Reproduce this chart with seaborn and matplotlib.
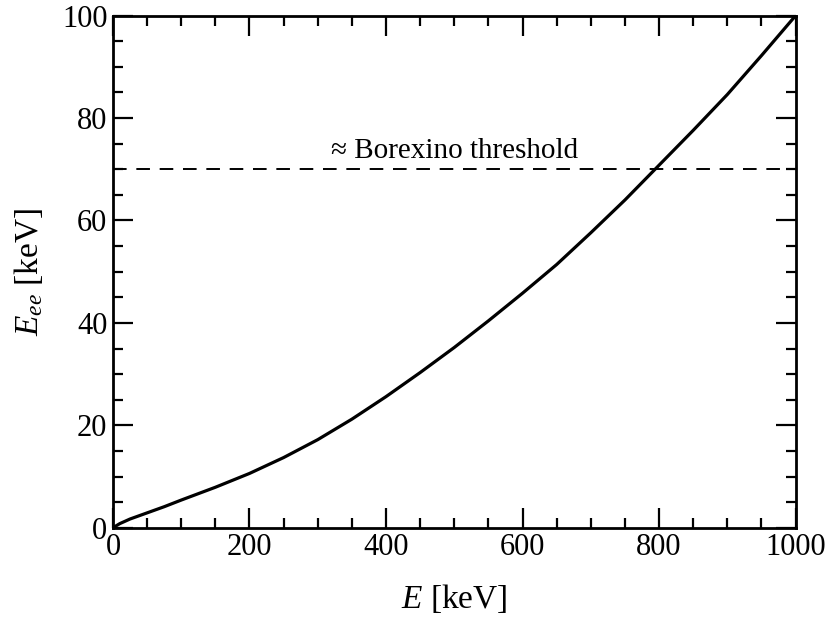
import matplotlib
matplotlib.use("Agg")
import matplotlib.pyplot as plt
import seaborn as sns
import pandas as pd
from matplotlib.ticker import MultipleLocator

# Data
E_keV = [0, 10, 25, 50, 75, 100, 150, 200, 250, 300, 350, 400, 450, 500,
         550, 600, 650, 700, 750, 800, 850, 900, 950, 1000]
Eee_keV = [0, 0.8, 1.7, 2.9, 4.1, 5.4, 7.9, 10.6, 13.7, 17.2, 21.2, 25.6,
           30.3, 35.2, 40.4, 45.8, 51.4, 57.6, 64.0, 70.8, 77.6, 84.6, 92.2, 100]
threshold = 70
threshold_label = "≈ Borexino threshold"

sns.set_theme(style="ticks")
plt.rcParams["font.family"] = ["Liberation Serif", "DejaVu Serif"]
plt.rcParams["mathtext.fontset"] = "custom"
plt.rcParams["mathtext.rm"] = "Liberation Serif"
plt.rcParams["mathtext.it"] = "Liberation Serif:italic"
for k in ["text.color", "axes.labelcolor", "xtick.color", "ytick.color",
          "xtick.labelcolor", "ytick.labelcolor"]:
    plt.rcParams[k] = "black"

fig = plt.figure(figsize=(8.27, 6.17), dpi=100)
ax = fig.add_axes([0.1366, 0.1447, 0.962 - 0.1366, 0.9746 - 0.1447])

df = pd.DataFrame({"E": E_keV, "Eee": Eee_keV})
sns.lineplot(data=df, x="E", y="Eee", ax=ax, color="black", linewidth=2.3)
ax.axhline(threshold, color="black", linewidth=1.4, linestyle=(0, (7, 5)))
ax.text(500, threshold + 1.0, threshold_label, ha="center", va="bottom",
        fontsize=21)

ax.set_xlim(0, 1000)
ax.set_ylim(0, 100)
ax.xaxis.set_major_locator(MultipleLocator(200))
ax.xaxis.set_minor_locator(MultipleLocator(50))
ax.yaxis.set_major_locator(MultipleLocator(20))
ax.yaxis.set_minor_locator(MultipleLocator(5))
ax.tick_params(which="both", direction="in", top=True, right=True,
               color="black", labelsize=22, width=1.6)
ax.tick_params(which="major", length=14.5, pad=4)
ax.tick_params(which="minor", length=7.2)
for s in ax.spines.values():
    s.set_linewidth(2.0)
    s.set_color("black")

ax.set_xlabel("$E$ [keV]", fontsize=24, labelpad=14)
ax.set_ylabel("$E_{ee}$ [keV]", fontsize=24, labelpad=12)

fig.savefig("out.png", dpi=100)
